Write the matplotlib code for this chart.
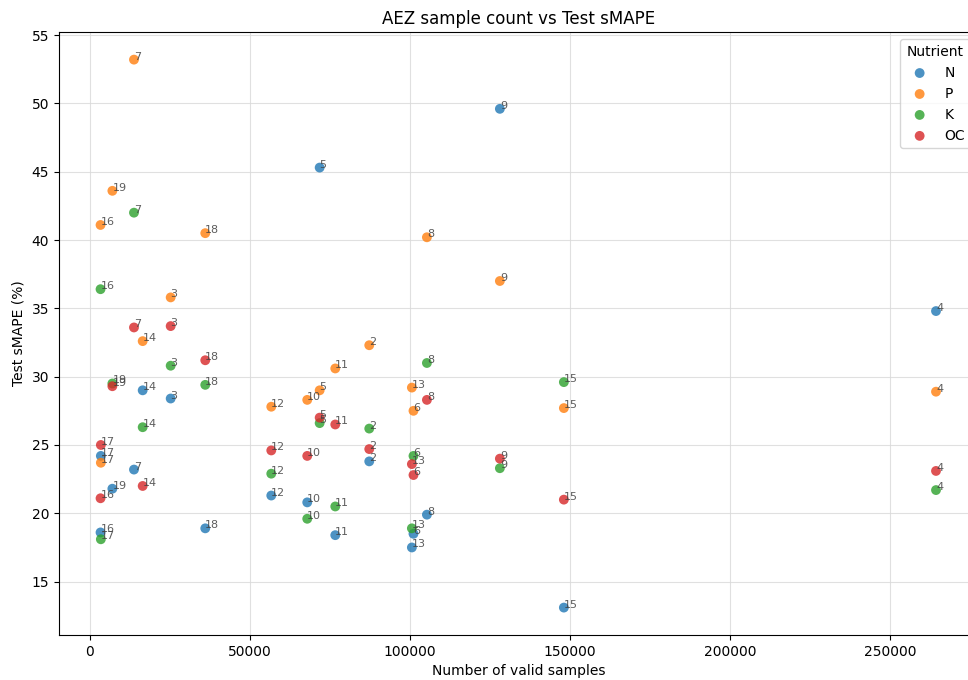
import matplotlib
matplotlib.use("Agg")
import matplotlib.pyplot as plt

# Agro-ecological zones and number of valid samples in each
aez = [2, 3, 4, 5, 6, 7, 8, 9, 10, 11, 12, 13, 14, 15, 16, 17, 18, 19]
samples = [87280, 25220, 264400, 71780, 101100, 13750, 105300, 128100, 67900,
           76660, 56660, 100600, 16470, 148100, 3300, 3400, 36030, 7000]

# Test sMAPE (%) per nutrient, in the same AEZ order
smape_n = [23.8, 28.4, 34.8, 45.3, 18.5, 23.2, 19.9, 49.6, 20.8,
           18.4, 21.3, 17.5, 29.0, 13.1, 18.6, 24.2, 18.9, 21.8]
smape_p = [32.3, 35.8, 28.9, 29.0, 27.5, 53.2, 40.2, 37.0, 28.3,
           30.6, 27.8, 29.2, 32.6, 27.7, 41.1, 23.7, 40.5, 43.6]
smape_k = [26.2, 30.8, 21.7, 26.6, 24.2, 42.0, 31.0, 23.3, 19.6,
           20.5, 22.9, 18.9, 26.3, 29.6, 36.4, 18.1, 29.4, 29.5]
smape_oc = [24.7, 33.7, 23.1, 27.0, 22.8, 33.6, 28.3, 24.0, 24.2,
            26.5, 24.6, 23.6, 22.0, 21.0, 21.1, 25.0, 31.2, 29.3]

nutrients = ["N", "P", "K", "OC"]
series = [smape_n, smape_p, smape_k, smape_oc]
colors = ["#1f77b4", "#ff7f0e", "#2ca02c", "#d62728"]

fig = plt.figure(figsize=(9.68, 6.8), dpi=100)
# the plot area runs slightly past the right edge of the canvas
ax = fig.add_axes([0.0607, 0.0662, 0.9494, 0.8864])

for name, vals, col in zip(nutrients, series, colors):
    ax.scatter(samples, vals, s=50, color=col, alpha=0.8, label=name,
               edgecolors="none", zorder=3)
    for a, x, y in zip(aez, samples, vals):
        ax.text(x, y, str(a), fontsize=8, color="0.25", alpha=0.85, zorder=4)

ax.set_title("AEZ sample count vs Test sMAPE", fontsize=12)
ax.set_xlabel("Number of valid samples", fontsize=10)
ax.set_ylabel("Test sMAPE (%)", fontsize=10)
ax.grid(True, color="0.85", linewidth=0.8, alpha=0.8)
ax.set_axisbelow(True)
ax.spines["right"].set_visible(False)
ax.legend(title="Nutrient", loc="upper right", fontsize=10, title_fontsize=10,
          bbox_to_anchor=(1.0, 1.0), borderaxespad=0.5)

fig.savefig("out.png", dpi=100)
